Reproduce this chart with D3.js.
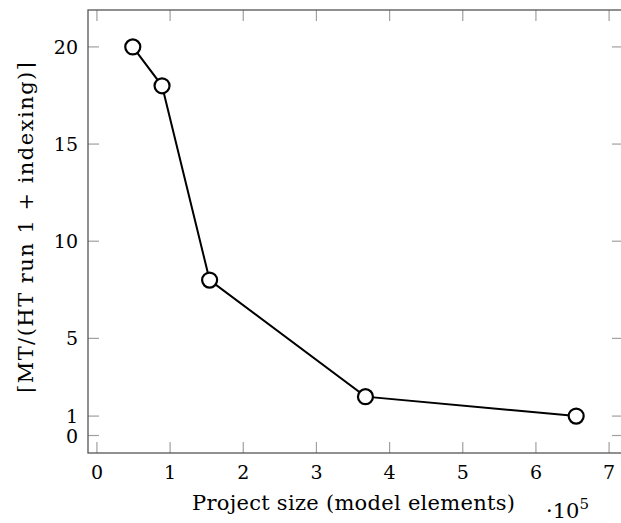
<!DOCTYPE html>
<html lang="en">
<head>
<meta charset="UTF-8">
<title>Project size vs MT/HT ratio</title>
<script src="https://d3js.org/d3.v7.min.js"></script>
<style>
    body { margin: 0; background: #ffffff; }
    svg { display: block; font-family: 'DejaVu Serif', 'Liberation Serif', serif; }
    .tick-label { font-size: 19px; fill: #000; }
    .axis-title { font-size: 21px; fill: #000; }
</style>
</head>
<body>
<div id="chart"></div>
<script>
    // data
    const projectSizes = [49000, 89000, 154000, 367000, 655000];
    const ratios = [20, 18, 8, 2, 1];
    const xTicks = [0, 1, 2, 3, 4, 5, 6, 7];
    const yTicks = [0, 1, 5, 10, 15, 20];

    const width = 621, height = 523;
    const margin = { left: 88, top: 10, right: -2, bottom: 70 };
    const x0 = margin.left, x1 = width - margin.right;
    const y0 = height - margin.bottom, y1 = margin.top;

    const svg = d3.select("#chart").append("svg")
        .attr("width", width)
        .attr("height", height);

    // pgfplots-like limits: enlarge by 10% of the data range
    const x = d3.scaleLinear().domain([-0.122, 7.19]).range([x0, x1]);
    const y = d3.scaleLinear().domain([-0.9, 21.9]).range([y0, y1]);

    const tickLen = 11;
    const tickColor = "#a0a0a0";

    // ticks (inside, on all four sides)
    const g = svg.append("g");
    xTicks.forEach(t => {
        g.append("line").attr("x1", x(t)).attr("x2", x(t))
            .attr("y1", y0).attr("y2", y0 - tickLen)
            .attr("stroke", tickColor).attr("stroke-width", 1.2);
        g.append("line").attr("x1", x(t)).attr("x2", x(t))
            .attr("y1", y1).attr("y2", y1 + tickLen)
            .attr("stroke", tickColor).attr("stroke-width", 1.2);
        g.append("text").attr("class", "tick-label")
            .attr("x", x(t)).attr("y", y0 + 26)
            .attr("text-anchor", "middle").text(t);
    });
    yTicks.forEach(t => {
        g.append("line").attr("x1", x0).attr("x2", x0 + tickLen)
            .attr("y1", y(t)).attr("y2", y(t))
            .attr("stroke", tickColor).attr("stroke-width", 1.2);
        g.append("line").attr("x1", x1).attr("x2", x1 - tickLen)
            .attr("y1", y(t)).attr("y2", y(t))
            .attr("stroke", tickColor).attr("stroke-width", 1.2);
        g.append("text").attr("class", "tick-label")
            .attr("x", x0 - 10).attr("y", y(t) + 7)
            .attr("text-anchor", "end").text(t);
    });

    // axis frame
    svg.append("rect")
        .attr("x", x0).attr("y", y1)
        .attr("width", x1 - x0).attr("height", y0 - y1)
        .attr("fill", "none").attr("stroke", "#555").attr("stroke-width", 1.3);

    const pts = projectSizes.map((s, i) => [s / 1e5, ratios[i]]);

    const line = d3.line().x(d => x(d[0])).y(d => y(d[1]));
    svg.append("path").datum(pts)
        .attr("d", line)
        .attr("fill", "none").attr("stroke", "#000").attr("stroke-width", 2);

    svg.selectAll("circle.mark").data(pts).enter().append("circle")
        .attr("class", "mark")
        .attr("cx", d => x(d[0])).attr("cy", d => y(d[1]))
        .attr("r", 7.5)
        .attr("fill", "#fff").attr("stroke", "#000").attr("stroke-width", 2.2);

    // axis titles
    svg.append("text").attr("class", "axis-title")
        .attr("x", 192).attr("y", 510)
        .attr("textLength", 323).attr("lengthAdjust", "spacing")
        .text("Project size (model elements)");

    const mult = svg.append("text").attr("class", "axis-title")
        .attr("x", 546).attr("y", 518);
    mult.append("tspan").text("·10");
    mult.append("tspan").attr("dy", -9).attr("font-size", 15).text("5");

    svg.append("text").attr("class", "axis-title")
        .attr("transform", `translate(33, 393) rotate(-90)`)
        .attr("textLength", 331).attr("lengthAdjust", "spacing")
        .text("⌈MT/(HT run 1 + indexing)⌉");
</script>
</body>
</html>
